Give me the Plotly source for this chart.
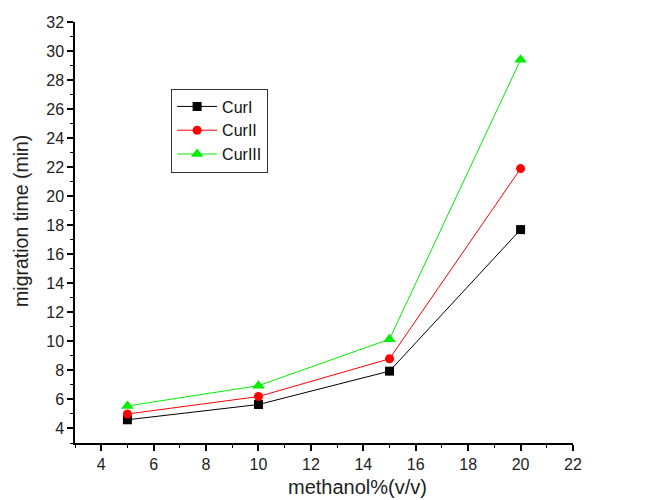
import plotly.graph_objects as go

methanol = [5, 10, 15, 20]
cur1 = [4.6, 5.65, 7.95, 17.7]
cur2 = [5.0, 6.2, 8.8, 21.9]
cur3 = [5.55, 6.95, 10.15, 29.4]
names = ["CurI", "CurII", "CurIII"]
x_title = "methanol%(v/v)"
y_title = "migration time (min)"

FONT = "Liberation Sans, Arial"

fig = go.Figure()
styles = [("black", "square"), ("#ff0000", "circle"), ("#00ee00", "triangle-up")]
for name, ys, (col, sym) in zip(names, [cur1, cur2, cur3], styles):
    fig.add_trace(go.Scatter(
        x=methanol, y=ys, name=name, mode="lines+markers",
        line=dict(color=col, width=1),
        marker=dict(symbol=sym, size=9 if sym != "triangle-up" else 11, color=col),
    ))

axis_common = dict(
    showgrid=False, zeroline=False, showline=True, linecolor="black", linewidth=1.5,
    ticks="outside", ticklen=6, tickwidth=1.5, tickcolor="black",
    tickfont=dict(family=FONT, size=16, color="#222"),
    minor=dict(ticks="outside", ticklen=3, tickwidth=1, tickcolor="black", dtick=1),
    dtick=2, mirror=False, automargin=False,
)
fig.update_xaxes(range=[3, 22], tick0=4, **axis_common)
fig.update_yaxes(range=[3, 32], tick0=4, **axis_common)

fig.add_annotation(text=x_title, xref="paper", yref="paper", x=0.568, y=-0.105,
                   xanchor="center", yanchor="middle", showarrow=False,
                   font=dict(family=FONT, size=20, color="#222"))
fig.add_annotation(text=y_title, xref="paper", yref="paper", x=-0.11, y=0.528,
                   xanchor="center", yanchor="middle", showarrow=False, textangle=-90,
                   font=dict(family=FONT, size=19.5, color="#222"))

fig.update_layout(
    width=644, height=492,
    margin=dict(l=67, r=79, t=14, b=57),
    plot_bgcolor="white", paper_bgcolor="white",
    legend=dict(x=0.193, y=0.842, xanchor="left", yanchor="top",
                bordercolor="#333", borderwidth=1, bgcolor="white",
                font=dict(family=FONT, size=16, color="#111"),
                tracegroupgap=0, itemwidth=40),
)

fig.write_html("out.html")
